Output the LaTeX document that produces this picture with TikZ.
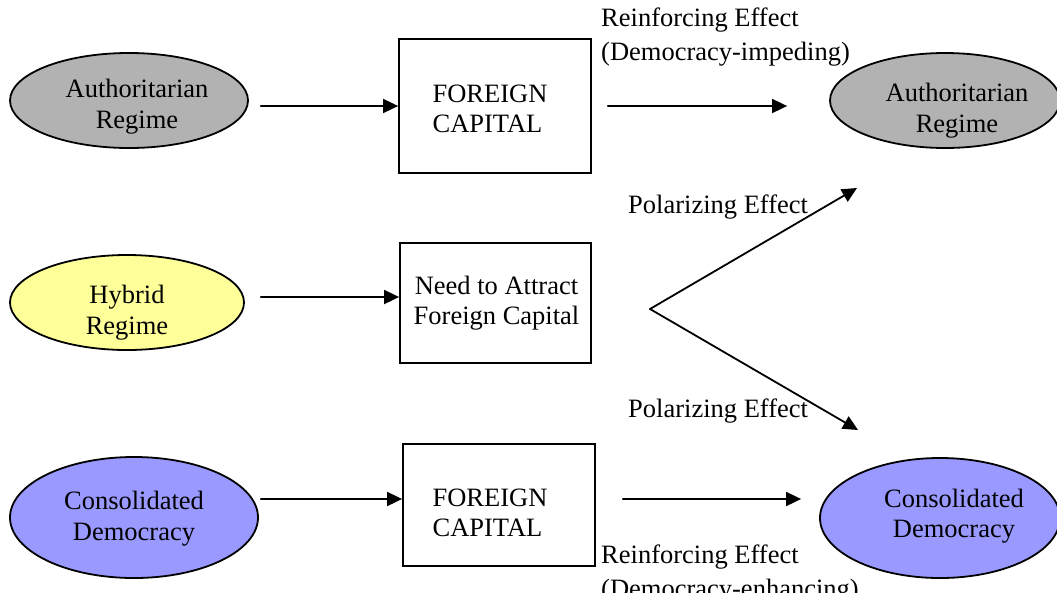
\documentclass[tikz,border=0pt]{standalone}
\usepackage{fontspec}
\setmainfont{Liberation Serif}
\usetikzlibrary{shapes.geometric,arrows.meta}
\definecolor{authgray}{RGB}{178,178,178}
\definecolor{hybridyellow}{RGB}{255,255,153}
\definecolor{democblue}{RGB}{153,153,255}

\begin{document}
\begin{tikzpicture}[x=1pt,y=-1pt,
    every node/.style={font=\fontsize{26.5pt}{30.5pt}\selectfont},
    regime/.style={draw,ellipse,line width=1.8pt,inner sep=0pt},
    capbox/.style={draw,rectangle,line width=1.8pt,inner sep=0pt},
    caption/.style={inner sep=0pt,align=center},
    effect/.style={inner sep=0pt,align=left,font=\fontsize{26.5pt}{34pt}\selectfont},
    link/.style={line width=1.8pt,line cap=round,-{Triangle[length=15pt,width=14pt]}}]
    \useasboundingbox (0,0) rectangle (1057,592);
    \node[regime,fill=authgray,minimum width=238pt,minimum height=95pt] (authL) at (129,100.5) {};
    \node[regime,fill=hybridyellow,minimum width=234pt,minimum height=95pt] (hybrid) at (127,302.5) {};
    \node[regime,fill=democblue,minimum width=248pt,minimum height=121pt] (democL) at (134,517.5) {};
    \node[capbox,minimum width=192pt,minimum height=134pt] (capTop) at (495,106) {};
    \node[capbox,minimum width=191pt,minimum height=120pt] (attract) at (495.5,303) {};
    \node[capbox,minimum width=192pt,minimum height=122pt] (capBot) at (499,505) {};
    \node[regime,fill=authgray,minimum width=230pt,minimum height=95pt] (authR) at (945,100.5) {};
    \node[regime,fill=democblue,minimum width=240pt,minimum height=120pt] (democR) at (940,518) {};
    \node[caption] (authLtxt) at ([xshift=8pt,yshift=-6pt]authL.center) {Authoritarian\\Regime};
    \node[caption] (hybridtxt) at ([yshift=-10pt]hybrid.center) {Hybrid\\Regime};
    \node[caption] (democLtxt) at ([yshift=-1pt]democL.center) {Consolidated\\Democracy};
    \node[caption,align=left] (capToptxt) at ([xshift=-5pt,yshift=-3pt]capTop.center) {FOREIGN\\CAPITAL};
    \node[caption] (attracttxt) at ([xshift=1pt]attract.center) {Need to Attract\\Foreign Capital};
    \node[caption,align=left] (capBottxt) at ([xshift=-9pt,yshift=-8pt]capBot.center) {FOREIGN\\CAPITAL};
    \node[caption] (authRtxt) at ([xshift=12pt,yshift=-10pt]authR.center) {Authoritarian\\Regime};
    \node[caption] (democRtxt) at ([xshift=14pt,yshift=2pt]democR.center) {Consolidated\\Democracy};
    \node[effect,anchor=north west] (reinfTop) at (601,7.5) {Reinforcing Effect\\(Democracy-impeding)};
    \node[effect,anchor=north west] (reinfBot) at (601,544.5) {Reinforcing Effect\\(Democracy-enhancing)};
    \node[effect,anchor=base west] (polTop) at (628,213) {Polarizing Effect};
    \node[effect,anchor=base west] (polBot) at (628,417) {Polarizing Effect};
    \coordinate (fork) at (650,309);
    \coordinate (upEnd) at (857,188);
    \coordinate (downEnd) at (858,430);
    \draw[link,shorten <=12pt] (capTop.west -| authL.east) -- (capTop.west);
    \draw[link,shorten <=16pt] ([yshift=6pt]attract.west -| hybrid.east) -- ([yshift=6pt]attract.west);
    \draw[link,shorten <=2pt] ([yshift=6pt]capBot.west -| democL.east) -- ([yshift=6pt]capBot.west);
    \draw[link,shorten <=16pt,shorten >=42pt] (capTop.east) -- (capTop.east -| authR.west);
    \draw[link,shorten <=27pt,shorten >=18pt] ([yshift=6pt]capBot.east) -- ([yshift=6pt]capBot.east -| democR.west);
    \draw[link] (fork) -- (upEnd);
    \draw[link] (fork) -- (downEnd);
\end{tikzpicture}
\end{document}
